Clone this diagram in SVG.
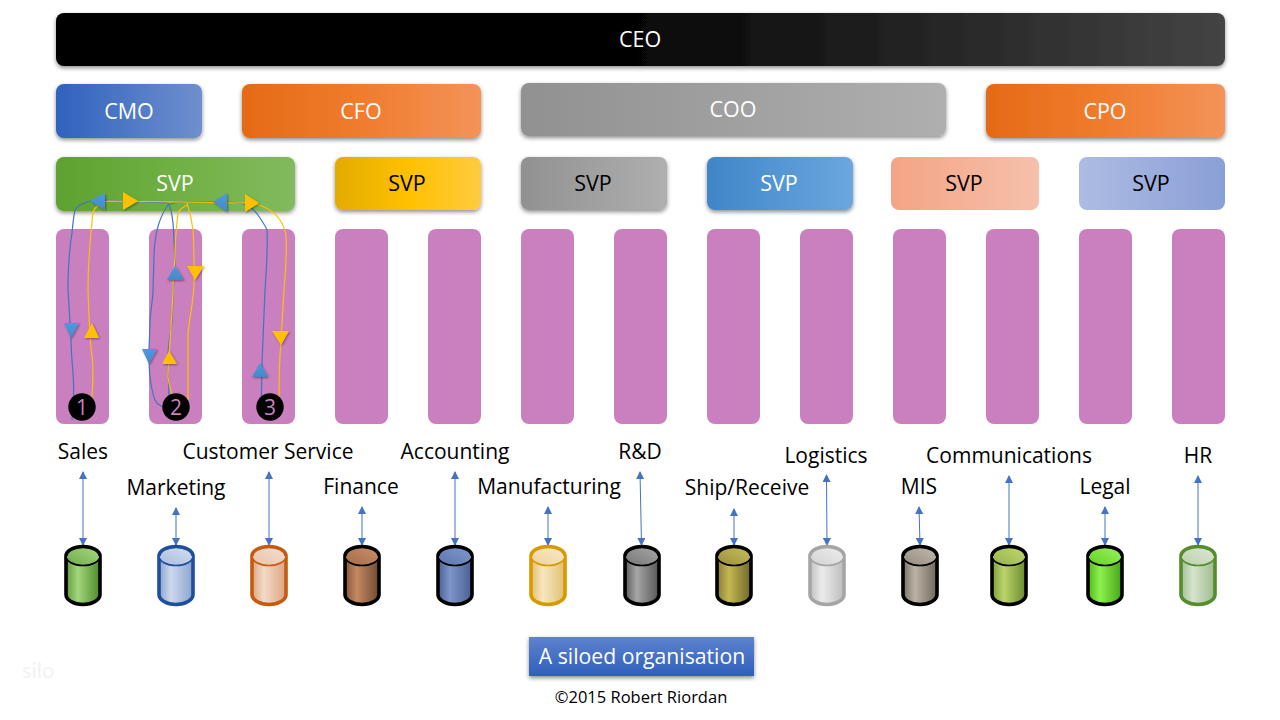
<svg xmlns="http://www.w3.org/2000/svg" width="1280" height="720" viewBox="0 0 1280 720">
<style>
text{font-family:"Open Sans","Noto Sans","Liberation Sans",sans-serif}
.w{fill:#fff;font-size:21.500px;text-anchor:middle}
.k{fill:#000;font-size:21.500px;text-anchor:middle}
.l{fill:#000;font-size:21px;text-anchor:middle}
.bar{fill:#ca7fbe}
.box{filter:url(#sh)}
.stem{stroke:#4472c4;stroke-width:1;fill:none;marker-start:url(#ah);marker-end:url(#ah)}
.b{stroke:#4472c4;stroke-width:1.200;fill:none}
.o{stroke:#ffc000;stroke-width:1.200;fill:none}
.tb{fill:url(#tb);filter:url(#ts)}
.to{fill:#ffc000;filter:url(#ts)}
.dot{fill:#000}
.n{fill:#ca7fbe;font-size:21px;text-anchor:middle}
.cb{stroke-width:3.600;stroke-linejoin:round}
.ct{stroke-width:1.700}
.ca{fill:none;stroke-width:3.600}
</style>
<defs>
<filter id="sh" x="-5%" y="-15%" width="110%" height="135%"><feDropShadow dx="0" dy="2" stdDeviation="2" flood-color="#000" flood-opacity=".45"/></filter>
<filter id="ts" x="-40%" y="-40%" width="180%" height="180%"><feDropShadow dx="1" dy="1" stdDeviation="1" flood-color="#000" flood-opacity=".4"/></filter>
<marker id="ah" viewBox="0 0 8 8" refX="7" refY="4" markerWidth="8" markerHeight="8" markerUnits="userSpaceOnUse" orient="auto-start-reverse"><path d="M0 0L8 4L0 8Z" fill="#4472c4"/></marker>
<linearGradient id="tb" x1="0" y1="0" x2="0" y2="1"><stop offset="0" stop-color="#4a9ce0"/><stop offset="1" stop-color="#4a86c8"/></linearGradient>
<linearGradient id="gceo"><stop offset="0" stop-color="#000"/><stop offset=".45" stop-color="#000"/><stop offset="1" stop-color="#444"/></linearGradient>
<linearGradient id="gcmo"><stop offset="0" stop-color="#2f62bd"/><stop offset="1" stop-color="#6f8fce"/></linearGradient>
<linearGradient id="gorg"><stop offset="0" stop-color="#e56a17"/><stop offset=".5" stop-color="#f07c2e"/><stop offset="1" stop-color="#f39359"/></linearGradient>
<linearGradient id="ggry"><stop offset="0" stop-color="#919191"/><stop offset="1" stop-color="#afafaf"/></linearGradient>
<linearGradient id="ggrn"><stop offset="0" stop-color="#5fa131"/><stop offset=".5" stop-color="#70b044"/><stop offset="1" stop-color="#82ba5e"/></linearGradient>
<linearGradient id="gyel"><stop offset="0" stop-color="#e2ac00"/><stop offset=".5" stop-color="#ffc000"/><stop offset="1" stop-color="#ffcc40"/></linearGradient>
<linearGradient id="gblu"><stop offset="0" stop-color="#3f86c8"/><stop offset="1" stop-color="#6ba6df"/></linearGradient>
<linearGradient id="gsal"><stop offset="0" stop-color="#f4a485"/><stop offset="1" stop-color="#f6c0ab"/></linearGradient>
<linearGradient id="glav"><stop offset="0" stop-color="#aebce2"/><stop offset="1" stop-color="#8a9fd8"/></linearGradient>
<linearGradient id="gttl" x1="0" y1="0" x2="0" y2="1"><stop offset="0" stop-color="#5e82ce"/><stop offset="1" stop-color="#2f5fbb"/></linearGradient>

<linearGradient id="b1"><stop offset="0" stop-color="#5f9a3a"/><stop offset=".35" stop-color="#a3d67c"/><stop offset="1" stop-color="#4e8a2c"/></linearGradient>
<linearGradient id="t1" x1="0" y1="1" x2="1" y2="0"><stop offset="0" stop-color="#6ea84a"/><stop offset="1" stop-color="#a8dc80"/></linearGradient>
<linearGradient id="b2"><stop offset="0" stop-color="#8ba3cf"/><stop offset=".35" stop-color="#cdd8ec"/><stop offset="1" stop-color="#8aa3cf"/></linearGradient>
<linearGradient id="t2" x1="0" y1="1" x2="1" y2="0"><stop offset="0" stop-color="#a9bcdd"/><stop offset="1" stop-color="#d6dfef"/></linearGradient>
<linearGradient id="b3"><stop offset="0" stop-color="#e0a580"/><stop offset=".35" stop-color="#f2dac9"/><stop offset="1" stop-color="#dfa47f"/></linearGradient>
<linearGradient id="t3" x1="0" y1="1" x2="1" y2="0"><stop offset="0" stop-color="#eac3a9"/><stop offset="1" stop-color="#f3dfd1"/></linearGradient>
<linearGradient id="b4"><stop offset="0" stop-color="#845638"/><stop offset=".35" stop-color="#c58962"/><stop offset="1" stop-color="#6e4a32"/></linearGradient>
<linearGradient id="t4" x1="0" y1="1" x2="1" y2="0"><stop offset="0" stop-color="#a26c4a"/><stop offset="1" stop-color="#cd8f68"/></linearGradient>
<linearGradient id="b5"><stop offset="0" stop-color="#4a5f94"/><stop offset=".35" stop-color="#7e96cc"/><stop offset="1" stop-color="#4a5f94"/></linearGradient>
<linearGradient id="t5" x1="0" y1="1" x2="1" y2="0"><stop offset="0" stop-color="#5d75ad"/><stop offset="1" stop-color="#8299cf"/></linearGradient>
<linearGradient id="b6"><stop offset="0" stop-color="#e2bf72"/><stop offset=".35" stop-color="#f6e6bf"/><stop offset="1" stop-color="#e2bf72"/></linearGradient>
<linearGradient id="t6" x1="0" y1="1" x2="1" y2="0"><stop offset="0" stop-color="#eed29a"/><stop offset="1" stop-color="#f7ebcb"/></linearGradient>
<linearGradient id="b7"><stop offset="0" stop-color="#5c5c5c"/><stop offset=".35" stop-color="#a6a6a6"/><stop offset="1" stop-color="#555"/></linearGradient>
<linearGradient id="t7" x1="0" y1="1" x2="1" y2="0"><stop offset="0" stop-color="#767676"/><stop offset="1" stop-color="#a8a8a8"/></linearGradient>
<linearGradient id="b8"><stop offset="0" stop-color="#857b34"/><stop offset=".35" stop-color="#c4b952"/><stop offset="1" stop-color="#6f672b"/></linearGradient>
<linearGradient id="t8" x1="0" y1="1" x2="1" y2="0"><stop offset="0" stop-color="#998e3d"/><stop offset="1" stop-color="#cbc059"/></linearGradient>
<linearGradient id="b9"><stop offset="0" stop-color="#c0c0c0"/><stop offset=".35" stop-color="#ececec"/><stop offset="1" stop-color="#bdbdbd"/></linearGradient>
<linearGradient id="t9" x1="0" y1="1" x2="1" y2="0"><stop offset="0" stop-color="#d2d2d2"/><stop offset="1" stop-color="#eee"/></linearGradient>
<linearGradient id="b10"><stop offset="0" stop-color="#7a6f63"/><stop offset=".35" stop-color="#bdb2a6"/><stop offset="1" stop-color="#6f665b"/></linearGradient>
<linearGradient id="t10" x1="0" y1="1" x2="1" y2="0"><stop offset="0" stop-color="#958a7d"/><stop offset="1" stop-color="#c4baae"/></linearGradient>
<linearGradient id="b11"><stop offset="0" stop-color="#7f9e3a"/><stop offset=".35" stop-color="#bcd46c"/><stop offset="1" stop-color="#6a8a2c"/></linearGradient>
<linearGradient id="t11" x1="0" y1="1" x2="1" y2="0"><stop offset="0" stop-color="#94b24a"/><stop offset="1" stop-color="#c2da70"/></linearGradient>
<linearGradient id="b12"><stop offset="0" stop-color="#4fb81a"/><stop offset=".35" stop-color="#8cf24e"/><stop offset="1" stop-color="#46a515"/></linearGradient>
<linearGradient id="t12" x1="0" y1="1" x2="1" y2="0"><stop offset="0" stop-color="#62d024"/><stop offset="1" stop-color="#9af560"/></linearGradient>
<linearGradient id="b13"><stop offset="0" stop-color="#a3bf93"/><stop offset=".35" stop-color="#d6e3cd"/><stop offset="1" stop-color="#9fbb8e"/></linearGradient>
<linearGradient id="t13" x1="0" y1="1" x2="1" y2="0"><stop offset="0" stop-color="#bcd0ae"/><stop offset="1" stop-color="#dde8d5"/></linearGradient>
<path id="cy-body" class="cb" d="M-17 11V49.500A17 10 0 0 0 17 49.500V11"/>
<ellipse id="cy-top" class="ct" cy="11" rx="17" ry="9.500"/>
<path id="cy-rim" class="ca" d="M-17 11A17 9.500 0 0 1 17 11"/>
</defs>

<rect width="1280" height="720" fill="#fff"/>

<g id="ceo"><rect class="box" x="56" y="13" width="1169" height="53" rx="8" fill="url(#gceo)"/><text class="w" x="640" y="47">CEO</text></g>
<g id="cmo"><rect class="box" x="56" y="84" width="146" height="54" rx="8" fill="url(#gcmo)"/><text class="w" x="129" y="119">CMO</text></g>
<g id="cfo"><rect class="box" x="242" y="84" width="239" height="54" rx="8" fill="url(#gorg)"/><text class="w" x="361" y="119">CFO</text></g>
<g id="coo"><rect class="box" x="521" y="83" width="425" height="53" rx="8" fill="url(#ggry)"/><text class="w" x="733" y="117">COO</text></g>
<g id="cpo"><rect class="box" x="986" y="84" width="239" height="54" rx="8" fill="url(#gorg)"/><text class="w" x="1105" y="119">CPO</text></g>

<g id="svp1"><rect class="box" x="56" y="157" width="239" height="54" rx="8" fill="url(#ggrn)"/><text class="w" x="175" y="191">SVP</text></g>
<g id="svp2"><rect class="box" x="335" y="157" width="146" height="53" rx="8" fill="url(#gyel)"/><text class="k" x="407" y="191">SVP</text></g>
<g id="svp3"><rect class="box" x="521" y="157" width="146" height="53" rx="8" fill="url(#ggry)"/><text class="k" x="593" y="191">SVP</text></g>
<g id="svp4"><rect class="box" x="707" y="157" width="146" height="53" rx="8" fill="url(#gblu)"/><text class="w" x="779" y="191">SVP</text></g>
<g id="svp5"><rect x="891" y="157" width="148" height="53" rx="8" fill="url(#gsal)"/><text class="k" x="964" y="191">SVP</text></g>
<g id="svp6"><rect x="1079" y="157" width="146" height="53" rx="8" fill="url(#glav)"/><text class="k" x="1151" y="191">SVP</text></g>

<g id="silos">
<rect class="bar" x="56" y="229" width="53" height="195" rx="8"/>
<rect class="bar" x="149" y="229" width="53" height="195" rx="8"/>
<rect class="bar" x="242" y="229" width="53" height="195" rx="8"/>
<rect class="bar" x="335" y="229" width="53" height="195" rx="8"/>
<rect class="bar" x="428" y="229" width="53" height="195" rx="8"/>
<rect class="bar" x="521" y="229" width="53" height="195" rx="8"/>
<rect class="bar" x="614" y="229" width="53" height="195" rx="8"/>
<rect class="bar" x="707" y="229" width="53" height="195" rx="8"/>
<rect class="bar" x="800" y="229" width="53" height="195" rx="8"/>
<rect class="bar" x="893" y="229" width="53" height="195" rx="8"/>
<rect class="bar" x="986" y="229" width="53" height="195" rx="8"/>
<rect class="bar" x="1079" y="229" width="53" height="195" rx="8"/>
<rect class="bar" x="1172" y="229" width="53" height="195" rx="8"/>
</g>

<g id="connectors">
<path class="b" d="M72 420C74 400 74 385 73 373C72 360 71 350 71 338L68 290C68 265 70 245 72 233C73 222 74 214 75 210C77 207 79 206 80 205L90 201L105 200L168 203C170 206 172 214 173 223C174 240 175 255 175 267L173 290C173 305 172 315 172 323C170 335 168 345 168 357C168 375 169 385 169 397"/>
<path class="b" d="M227 202L187 202C180 202 172 203 168 205C163 212 159 222 157 230C155 240 154 250 154 257L153 290C153 300 150 312 150 323L149 350C149 360 149 370 150 377C151 385 153 395 155 400C157 404 160 406 164 407"/>
<path class="b" d="M227 202C235 202 241 203 247 205C252 208 257 213 260 218C264 224 266 227 267 230C268 250 266 275 265 290L262 363L261 417"/>
<path class="o" d="M90 418C93 390 94 370 92 355C90 345 89 320 88 290C88 265 90 240 93 212C96 205 102 202 108 201L245 203L259 205C268 208 276 214 280 220C285 228 286 232 286 237C287 260 285 275 284 290L281 340C279 365 279 380 279 397"/>
<path class="o" d="M187 205C181 208 178 212 178 213C176 230 175 250 175 257C174 270 173 280 173 290C172 320 170 340 169 355C168 365 168 370 168 377C169 385 171 390 172 395"/>
<path class="o" d="M187 203C190 212 192 222 193 230C194 245 194 256 194 267L194 282C194 300 189 320 188 333L188 400"/>
<polygon class="tb" points="90,201 105,193 105,210"/>
<polygon class="to" points="123,192 138,201 123,210"/>
<polygon class="tb" points="213,202 227,193 227,212"/>
<polygon class="to" points="245,194 259,203 245,212"/>
<polygon class="tb" points="64,323 79,323 71,338"/>
<polygon class="to" points="92,323 99,338 84,338"/>
<polygon class="tb" points="175,266 184,280 167,280"/>
<polygon class="to" points="187,266 204,266 195,280"/>
<polygon class="tb" points="142,349 157,349 149,364"/>
<polygon class="to" points="169,351 177,364 162,364"/>
<polygon class="tb" points="260,363 268,377 252,377"/>
<polygon class="to" points="272,331 289,331 281,345"/>
<path class="stem" d="M83 472V545"/>
<path class="stem" d="M176 508V545"/>
<path class="stem" d="M269 472V545"/>
<path class="stem" d="M362 507V545"/>
<path class="stem" d="M455 472V545"/>
<path class="stem" d="M548 507V545"/>
<path class="stem" d="M640 472L641.500 545"/>
<path class="stem" d="M734 509V545"/>
<path class="stem" d="M826.500 475L827 545"/>
<path class="stem" d="M919 507L920 545"/>
<path class="stem" d="M1009 476V545"/>
<path class="stem" d="M1105 507V545"/>
<path class="stem" d="M1198 476V545"/>
</g>

<g id="badge1"><circle class="dot" cx="82" cy="407" r="13.700"/><text class="n" x="82" y="414.500">1</text></g>
<g id="badge2"><circle class="dot" cx="176" cy="407" r="13.700"/><text class="n" x="176" y="414.500">2</text></g>
<g id="badge3"><circle class="dot" cx="270" cy="407" r="13.700"/><text class="n" x="270" y="414.500">3</text></g>

<g id="labels">
<text class="l" x="83" y="459">Sales</text>
<text class="l" x="176" y="495">Marketing</text>
<text class="l" x="268" y="459">Customer Service</text>
<text class="l" x="361" y="494">Finance</text>
<text class="l" x="455" y="459">Accounting</text>
<text class="l" x="549" y="494">Manufacturing</text>
<text class="l" x="640" y="459">R&amp;D</text>
<text class="l" x="747" y="495">Ship/Receive</text>
<text class="l" x="826" y="463">Logistics</text>
<text class="l" x="919" y="494">MIS</text>
<text class="l" x="1009" y="463">Communications</text>
<text class="l" x="1105" y="494">Legal</text>
<text class="l" x="1198" y="463">HR</text>
</g>

<g id="cyl-sales" transform="translate(83 545)" stroke="#000"><use href="#cy-body" fill="url(#b1)"/><use href="#cy-top" fill="url(#t1)"/><use href="#cy-rim"/></g>
<g id="cyl-marketing" transform="translate(176 545)" stroke="#1f4e9b"><use href="#cy-body" fill="url(#b2)"/><use href="#cy-top" fill="url(#t2)"/><use href="#cy-rim"/></g>
<g id="cyl-service" transform="translate(269 545)" stroke="#c55a11"><use href="#cy-body" fill="url(#b3)"/><use href="#cy-top" fill="url(#t3)"/><use href="#cy-rim"/></g>
<g id="cyl-finance" transform="translate(362 545)" stroke="#000"><use href="#cy-body" fill="url(#b4)"/><use href="#cy-top" fill="url(#t4)"/><use href="#cy-rim"/></g>
<g id="cyl-accounting" transform="translate(455 545)" stroke="#000"><use href="#cy-body" fill="url(#b5)"/><use href="#cy-top" fill="url(#t5)"/><use href="#cy-rim"/></g>
<g id="cyl-manufacturing" transform="translate(548 545)" stroke="#d69a00"><use href="#cy-body" fill="url(#b6)"/><use href="#cy-top" fill="url(#t6)"/><use href="#cy-rim"/></g>
<g id="cyl-rd" transform="translate(642 545)" stroke="#000"><use href="#cy-body" fill="url(#b7)"/><use href="#cy-top" fill="url(#t7)"/><use href="#cy-rim"/></g>
<g id="cyl-ship" transform="translate(734 545)" stroke="#000"><use href="#cy-body" fill="url(#b8)"/><use href="#cy-top" fill="url(#t8)"/><use href="#cy-rim"/></g>
<g id="cyl-logistics" transform="translate(827 545)" stroke="#a5a5a5"><use href="#cy-body" fill="url(#b9)"/><use href="#cy-top" fill="url(#t9)"/><use href="#cy-rim"/></g>
<g id="cyl-mis" transform="translate(920 545)" stroke="#000"><use href="#cy-body" fill="url(#b10)"/><use href="#cy-top" fill="url(#t10)"/><use href="#cy-rim"/></g>
<g id="cyl-communications" transform="translate(1009 545)" stroke="#000"><use href="#cy-body" fill="url(#b11)"/><use href="#cy-top" fill="url(#t11)"/><use href="#cy-rim"/></g>
<g id="cyl-legal" transform="translate(1105 545)" stroke="#000"><use href="#cy-body" fill="url(#b12)"/><use href="#cy-top" fill="url(#t12)"/><use href="#cy-rim"/></g>
<g id="cyl-hr" transform="translate(1198 545)" stroke="#548e2c"><use href="#cy-body" fill="url(#b13)"/><use href="#cy-top" fill="url(#t13)"/><use href="#cy-rim"/></g>

<g id="title"><rect class="box" x="529" y="637" width="225" height="39" fill="url(#gttl)"/><text x="642" y="664" fill="#fff" font-size="21.200" text-anchor="middle">A siloed organisation</text></g>
<text x="641" y="703" fill="#000" font-size="16.500" text-anchor="middle">©2015 Robert Riordan</text>
<text x="22" y="678" fill="#f2f2f2" font-size="22" style="font-family:Lato,sans-serif">silo</text>
</svg>
